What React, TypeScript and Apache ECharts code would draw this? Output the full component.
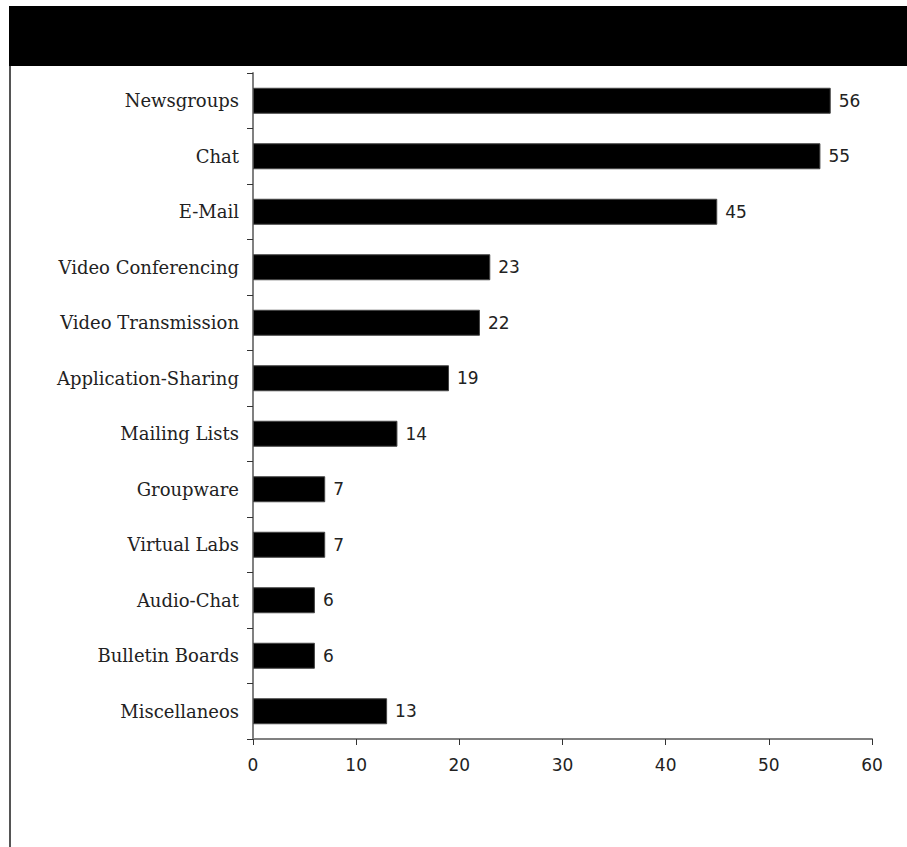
import React, { useEffect, useRef } from "react";
import * as echarts from "echarts";

const categories = [
  "Newsgroups",
  "Chat",
  "E-Mail",
  "Video Conferencing",
  "Video Transmission",
  "Application-Sharing",
  "Mailing Lists",
  "Groupware",
  "Virtual Labs",
  "Audio-Chat",
  "Bulletin Boards",
  "Miscellaneos",
];
const values = [56, 55, 45, 23, 22, 19, 14, 7, 7, 6, 6, 13];
const xTicks = [0, 10, 20, 30, 40, 50, 60];

export default function App() {
  const ref = useRef<HTMLDivElement>(null);
  useEffect(() => {
    if (!ref.current) return;
    const chart = echarts.init(ref.current, undefined, { renderer: "svg" });
    chart.setOption({
      animation: false,
      backgroundColor: "#ffffff",
      graphic: [
        { type: "rect", shape: { x: 9, y: 6, width: 898, height: 60 }, style: { fill: "#000" } },
        { type: "rect", shape: { x: 9, y: 66, width: 2, height: 781 }, style: { fill: "#555" } },
      ],
      grid: { left: 253, top: 73, right: 35, bottom: 108, containLabel: false },
      xAxis: {
        type: "value",
        min: xTicks[0],
        max: xTicks[xTicks.length - 1],
        interval: 10,
        splitLine: { show: false },
        axisLine: { show: true, lineStyle: { color: "#808080", width: 2 } },
        axisTick: { show: true, length: 6, lineStyle: { color: "#333" } },
        axisLabel: {
          margin: 17,
          fontFamily: "DejaVu Sans",
          fontSize: 17,
          color: "#222",
        },
      },
      yAxis: {
        type: "category",
        data: categories,
        inverse: true,
        axisLine: { show: true, lineStyle: { color: "#808080", width: 2 } },
        axisTick: { show: true, length: 6, lineStyle: { color: "#333" } },
        axisLabel: {
          margin: 14,
          fontFamily: "DejaVu Serif",
          fontSize: 18,
          color: "#222",
        },
      },
      series: [
        {
          type: "bar",
          data: values,
          barWidth: 26,
          itemStyle: { color: "#000", borderColor: "#444", borderWidth: 1 },
          label: {
            show: true,
            position: "right",
            distance: 8,
            fontFamily: "DejaVu Sans",
            fontSize: 17,
            color: "#222",
          },
        },
      ],
    });
    return () => chart.dispose();
  }, []);
  return (
    <div
      ref={ref}
      style={{ position: "fixed", left: 0, top: 0, width: 907, height: 847 }}
    />
  );
}
